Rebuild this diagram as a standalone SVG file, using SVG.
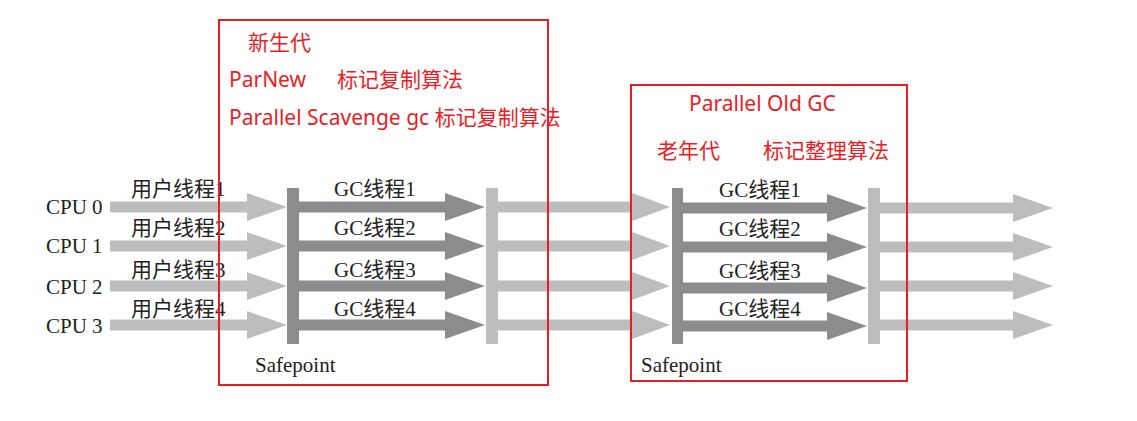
<svg xmlns="http://www.w3.org/2000/svg" width="1137" height="421" viewBox="0 0 1137 421">
<style>
.dk{fill:#8b8c8e}
.lt{fill:#bcbdbf}
.box{fill:none;stroke:#ec1c24;stroke-width:2}
.red{font-family:"Noto Sans","Noto Sans CJK SC",sans-serif;font-size:21px;fill:#ec1c24}
.blk{font-family:"Liberation Serif","Noto Sans CJK SC",serif;font-size:21px;fill:#222}
</style>
<defs>
<polygon id="aU" points="0,-5.5 137,-5.5 137,-14 177,0 137,14 137,5.5 0,5.5"/>
<polygon id="aG" points="0,-5.5 146,-5.5 146,-14 186,0 146,14 146,5.5 0,5.5"/>
<polygon id="aL" points="0,-5.5 134,-5.5 134,-14 172,0 134,14 134,5.5 0,5.5"/>
<polygon id="aG2" points="0,-5.5 144,-5.5 144,-14 184,0 144,14 144,5.5 0,5.5"/>
<polygon id="aL2" points="0,-5.5 133,-5.5 133,-14 173,0 133,14 133,5.5 0,5.5"/>
</defs>
<rect width="1137" height="421" fill="#fff"/>
<g id="connectors">
<use href="#aU" class="lt" x="110" y="207"/>
<use href="#aU" class="lt" x="110" y="246"/>
<use href="#aU" class="lt" x="110" y="286"/>
<use href="#aU" class="lt" x="110" y="325"/>
<use href="#aG" class="dk" x="299" y="207"/>
<use href="#aG" class="dk" x="299" y="246"/>
<use href="#aG" class="dk" x="299" y="286"/>
<use href="#aG" class="dk" x="299" y="325"/>
<use href="#aL" class="lt" x="498" y="207"/>
<use href="#aL" class="lt" x="498" y="246"/>
<use href="#aL" class="lt" x="498" y="286"/>
<use href="#aL" class="lt" x="498" y="325"/>
<use href="#aG2" class="dk" x="683" y="208"/>
<use href="#aG2" class="dk" x="683" y="247"/>
<use href="#aG2" class="dk" x="683" y="288"/>
<use href="#aG2" class="dk" x="683" y="326"/>
<use href="#aL2" class="lt" x="880" y="208"/>
<use href="#aL2" class="lt" x="880" y="247"/>
<use href="#aL2" class="lt" x="880" y="286"/>
<use href="#aL2" class="lt" x="880" y="325"/>
</g>
<g id="cpus">
<text class="blk" x="46" y="214">CPU 0</text>
<text class="blk" x="46" y="253">CPU 1</text>
<text class="blk" x="46" y="294">CPU 2</text>
<text class="blk" x="46" y="333">CPU 3</text>
</g>
<g id="user-labels">
<text class="blk" x="131" y="196">用户线程1</text>
<text class="blk" x="131" y="235">用户线程2</text>
<text class="blk" x="131" y="277">用户线程3</text>
<text class="blk" x="131" y="316">用户线程4</text>
</g>
<g id="safepoint1">
<rect class="dk" x="287" y="188" width="12" height="156"/>
<text class="blk" x="255" y="372">Safepoint</text>
</g>
<g id="gc-labels-1">
<text class="blk" x="334" y="196">GC线程1</text>
<text class="blk" x="334" y="235">GC线程2</text>
<text class="blk" x="334" y="277">GC线程3</text>
<text class="blk" x="334" y="316">GC线程4</text>
</g>
<g id="bar2"><rect class="lt" x="486" y="188" width="12" height="156"/></g>
<g id="safepoint2">
<rect class="dk" x="672" y="188" width="11" height="156"/>
<text class="blk" x="641" y="372">Safepoint</text>
</g>
<g id="gc-labels-2">
<text class="blk" x="719" y="197">GC线程1</text>
<text class="blk" x="719" y="236">GC线程2</text>
<text class="blk" x="719" y="278">GC线程3</text>
<text class="blk" x="719" y="316">GC线程4</text>
</g>
<g id="bar4"><rect class="lt" x="868" y="188" width="12" height="156"/></g>
<g id="young-box">
<rect class="box" x="219" y="20" width="329" height="365"/>
<text class="red" x="248" y="50">新生代</text>
<text class="red" x="229" y="87">ParNew</text>
<text class="red" x="337" y="87">标记复制算法</text>
<text class="red" x="229" y="125">Parallel Scavenge gc 标记复制算法</text>
</g>
<g id="old-box">
<rect class="box" x="631" y="85" width="276" height="296"/>
<text class="red" x="689" y="111">Parallel Old GC</text>
<text class="red" x="657" y="158">老年代</text>
<text class="red" x="763" y="158">标记整理算法</text>
</g>
</svg>
